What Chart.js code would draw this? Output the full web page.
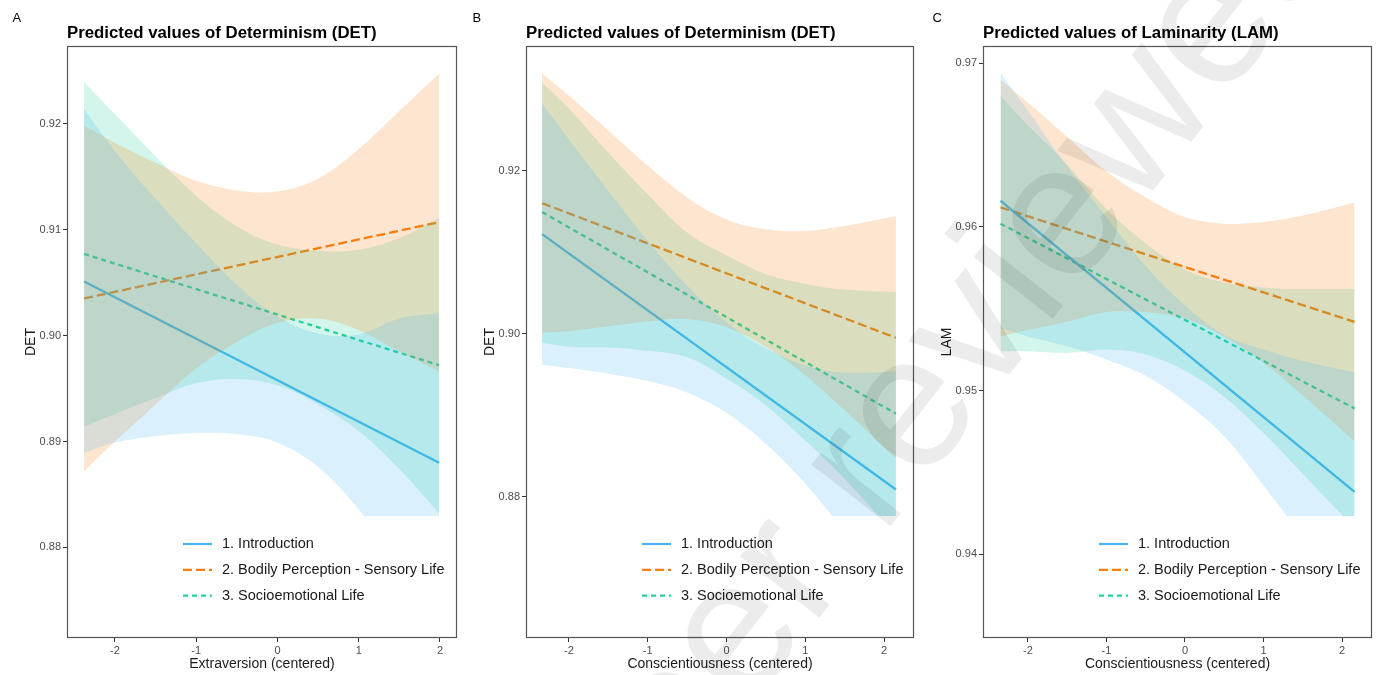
<!DOCTYPE html>
<html>
<head>
<meta charset="utf-8">
<script src="https://cdn.jsdelivr.net/npm/chart.js@4.4.1/dist/chart.umd.min.js"></script>
<style>
  html, body { margin: 0; padding: 0; background: #fff; }
  #wrap { position: relative; width: 1379px; height: 675px; overflow: hidden; }
  .panel { position: absolute; top: 0; }
  #mark { position: absolute; left: 0; top: 0; pointer-events: none; }
</style>
</head>
<body>
<div id="wrap">
  <canvas class="panel" id="chartA" width="460" height="675" style="left:0"></canvas>
  <canvas class="panel" id="chartB" width="460" height="675" style="left:460px"></canvas>
  <canvas class="panel" id="chartC" width="459" height="675" style="left:920px"></canvas>
  <canvas id="mark" width="1379" height="675"></canvas>
</div>
<script>
const fontFam = '"Liberation Sans", Arial, sans-serif';

const seriesNames = ['1. Introduction', '2. Bodily Perception - Sensory Life', '3. Socioemotional Life'];
const seriesColors = ['#46b4f2', '#fb7e0d', '#1ed49c'];
const seriesDash = [[], [9, 4], [5, 4]];
const xTicks = [-2, -1, 0, 1, 2];

// Panel A - Extraversion -> DET
const xA = [-2.38, -2, -1.5, -1, -0.5, 0, 0.5, 1, 1.5, 1.99];
const lineXA = [-2.38, 1.99];
const introA = [0.9051, 0.8880];
const bodilyA = [0.9035, 0.9107];
const socioA = [0.9077, 0.8972];
const introHiA = [0.9214, 0.9174, 0.9129, 0.9087, 0.9048, 0.9018, 0.9002, 0.9001, 0.9016, 0.9021];
const introLoA = [0.8889, 0.8899, 0.8905, 0.8908, 0.8907, 0.8899, 0.8876, 0.8836, 0.8782, 0.8739];
const bodilyHiA = [0.9198, 0.9182, 0.9163, 0.9146, 0.9137, 0.9136, 0.9148, 0.9176, 0.9212, 0.9247];
const bodilyLoA = [0.8872, 0.8900, 0.8935, 0.8969, 0.8994, 0.9012, 0.9016, 0.9005, 0.8985, 0.8966];
const socioHiA = [0.9239, 0.9209, 0.9169, 0.9132, 0.9103, 0.9086, 0.9080, 0.9081, 0.9092, 0.9111];
const socioLoA = [0.8914, 0.8926, 0.8941, 0.8955, 0.8959, 0.8953, 0.8935, 0.8910, 0.8874, 0.8832];
const yTicksA = [0.88, 0.89, 0.90, 0.91, 0.92];

// Panel B - Conscientiousness -> DET
const xB = [-2.34, -2, -1.5, -1, -0.5, 0, 0.5, 1, 1.5, 2.15];
const lineXB = [-2.34, 2.15];
const introB = [0.9122, 0.8809];
const bodilyB = [0.9160, 0.8995];
const socioB = [0.9149, 0.8902];
const introHiB = [0.9282, 0.9238, 0.9175, 0.9114, 0.9059, 0.9014, 0.8982, 0.8961, 0.8952, 0.8954];
const introLoB = [0.8962, 0.8958, 0.8951, 0.8942, 0.8928, 0.8903, 0.8865, 0.8816, 0.8756, 0.8663];
const bodilyHiB = [0.9319, 0.9292, 0.9249, 0.9206, 0.9167, 0.9140, 0.9128, 0.9126, 0.9132, 0.9144];
const bodilyLoB = [0.9001, 0.9003, 0.9009, 0.9015, 0.9018, 0.9008, 0.8984, 0.8949, 0.8906, 0.8847];
const socioHiB = [0.9308, 0.9276, 0.9222, 0.9171, 0.9124, 0.9096, 0.9073, 0.9061, 0.9054, 0.9051];
const socioLoB = [0.8989, 0.8984, 0.8983, 0.8979, 0.8971, 0.8945, 0.8912, 0.8869, 0.8822, 0.8753];
const yTicksB = [0.88, 0.90, 0.92];

// Panel C - Conscientiousness -> LAM
const xC = [-2.35, -2, -1.5, -1, -0.5, 0, 0.5, 1, 1.5, 2.16];
const lineXC = [-2.35, 2.16];
const introC = [0.9616, 0.9438];
const bodilyC = [0.9612, 0.9542];
const socioC = [0.9602, 0.9489];
const introHiC = [0.9694, 0.9671, 0.9637, 0.9606, 0.9576, 0.9552, 0.9534, 0.9525, 0.9518, 0.9511];
const introLoC = [0.9538, 0.9533, 0.9527, 0.9519, 0.9509, 0.9493, 0.9472, 0.9442, 0.9410, 0.9364];
const bodilyHiC = [0.9690, 0.9676, 0.9655, 0.9634, 0.9618, 0.9606, 0.9602, 0.9603, 0.9607, 0.9615];
const bodilyLoC = [0.9533, 0.9537, 0.9542, 0.9548, 0.9548, 0.9544, 0.9533, 0.9517, 0.9497, 0.9469];
const socioHiC = [0.9680, 0.9662, 0.9638, 0.9611, 0.9590, 0.9574, 0.9566, 0.9563, 0.9562, 0.9562];
const socioLoC = [0.9524, 0.9524, 0.9523, 0.9525, 0.9522, 0.9512, 0.9496, 0.9474, 0.9449, 0.9416];
const yTicksC = [0.94, 0.95, 0.96, 0.97];

function pts(xs, ys) {
  return ys.map((y, i) => ({ x: xs[i], y: y }));
}

function withAlpha(hex, a) {
  const n = parseInt(hex.slice(1), 16);
  return `rgba(${(n >> 16) & 255}, ${(n >> 8) & 255}, ${n & 255}, ${a})`;
}

// titles, axis titles, legend box and panel frame
const decor = {
  id: 'decor',
  afterDatasetsDraw(chart, args, o) {
    const { ctx, chartArea: a } = chart;
    ctx.save();
    ctx.fillStyle = '#fff';
    ctx.fillRect(a.left + 105, 516, a.right - a.left - 108, 100);
    seriesNames.forEach((name, i) => {
      const y = 544 + i * 25.8;
      ctx.strokeStyle = seriesColors[i];
      ctx.lineWidth = 2.2;
      ctx.setLineDash(seriesDash[i]);
      ctx.beginPath();
      ctx.moveTo(a.left + 116, y);
      ctx.lineTo(a.left + 145, y);
      ctx.stroke();
      ctx.setLineDash([]);
      ctx.fillStyle = '#1a1a1a';
      ctx.font = '14.5px ' + fontFam;
      ctx.textBaseline = 'middle';
      ctx.textAlign = 'left';
      ctx.fillText(name, a.left + 155, y);
    });
    ctx.restore();
  },
  afterDraw(chart, args, o) {
    const { ctx, chartArea: a } = chart;
    ctx.save();
    ctx.strokeStyle = '#555';
    ctx.lineWidth = 1.2;
    ctx.strokeRect(a.left + 0.5, a.top + 0.5, a.right - a.left - 1, a.bottom - a.top - 1);

    ctx.fillStyle = '#000';
    ctx.textBaseline = 'alphabetic';
    ctx.textAlign = 'left';
    ctx.font = '13px ' + fontFam;
    ctx.fillText(o.letter, 12.5, 22);
    ctx.font = 'bold 16.8px ' + fontFam;
    ctx.fillText(o.title, a.left, 37.5);

    ctx.fillStyle = '#1a1a1a';
    ctx.font = '14px ' + fontFam;
    ctx.textAlign = 'center';
    ctx.textBaseline = 'middle';
    ctx.fillText(o.xTitle, (a.left + a.right) / 2, 664);
    ctx.translate(a.left - 36, (a.top + a.bottom) / 2);
    ctx.rotate(-Math.PI / 2);
    ctx.fillText(o.yTitle, 0, 0);
    ctx.restore();
  }
};

function makeChart(id, cfg) {
  const datasets = [];
  // ribbons come first so they are painted over the lines
  cfg.bands.forEach((band, i) => {
    datasets.push({
      data: pts(cfg.x, band[0]),
      borderColor: 'rgba(0,0,0,0)', borderWidth: 0, pointRadius: 0,
      fill: false, tension: 0.35
    });
    datasets.push({
      data: pts(cfg.x, band[1]),
      borderColor: 'rgba(0,0,0,0)', borderWidth: 0, pointRadius: 0,
      fill: '-1', backgroundColor: withAlpha(seriesColors[i], 0.2), tension: 0.35
    });
  });
  cfg.lines.forEach((ys, i) => {
    datasets.push({
      data: pts(cfg.lineX, ys),
      borderColor: seriesColors[i], borderWidth: 2.3, borderDash: seriesDash[i],
      pointRadius: 0, fill: false, tension: 0
    });
  });

  const grid = { display: true, drawOnChartArea: false, drawTicks: true, tickLength: 4, color: '#333', lineWidth: 1 };
  const tickFont = { size: 11, family: fontFam };

  return new Chart(document.getElementById(id), {
    type: 'line',
    data: { datasets },
    options: {
      responsive: false,
      animation: false,
      events: [],
      layout: { padding: { top: 46, right: cfg.padRight, left: 0, bottom: 0 } },
      plugins: {
        legend: { display: false },
        tooltip: { enabled: false },
        decor: { letter: cfg.letter, title: cfg.title, xTitle: cfg.xTitle, yTitle: cfg.yTitle }
      },
      scales: {
        x: {
          type: 'linear', min: cfg.xMin, max: cfg.xMax,
          afterBuildTicks: s => { s.ticks = xTicks.map(v => ({ value: v })); },
          afterFit: s => { s.height = 37; },
          grid, border: { display: false },
          ticks: { color: '#4d4d4d', font: tickFont, padding: 2, maxRotation: 0, callback: v => String(v) }
        },
        y: {
          type: 'linear', min: cfg.yMin, max: cfg.yMax,
          afterBuildTicks: s => { s.ticks = cfg.yTicks.map(v => ({ value: v })); },
          afterFit: s => { s.width = cfg.axisLeft; },
          grid, border: { display: false },
          ticks: { color: '#4d4d4d', font: tickFont, padding: 2, callback: v => v.toFixed(2) }
        }
      }
    },
    plugins: [decor]
  });
}

makeChart('chartA', {
  letter: 'A', title: 'Predicted values of Determinism (DET)',
  xTitle: 'Extraversion (centered)', yTitle: 'DET',
  x: xA, lineX: lineXA,
  bands: [[introLoA, introHiA], [bodilyLoA, bodilyHiA], [socioLoA, socioHiA]],
  lines: [introA, bodilyA, socioA],
  xMin: -2.59, xMax: 2.21, yMin: 0.87145, yMax: 0.92733, yTicks: yTicksA,
  axisLeft: 67, padRight: 3
});

makeChart('chartB', {
  letter: 'B', title: 'Predicted values of Determinism (DET)',
  xTitle: 'Conscientiousness (centered)', yTitle: 'DET',
  x: xB, lineX: lineXB,
  bands: [[introLoB, introHiB], [bodilyLoB, bodilyHiB], [socioLoB, socioHiB]],
  lines: [introB, bodilyB, socioB],
  xMin: -2.544, xMax: 2.38, yMin: 0.8627, yMax: 0.93526, yTicks: yTicksB,
  axisLeft: 66, padRight: 6
});

makeChart('chartC', {
  letter: 'C', title: 'Predicted values of Laminarity (LAM)',
  xTitle: 'Conscientiousness (centered)', yTitle: 'LAM',
  x: xC, lineX: lineXC,
  bands: [[introLoC, introHiC], [bodilyLoC, bodilyHiC], [socioLoC, socioHiC]],
  lines: [introC, bodilyC, socioC],
  xMin: -2.573, xMax: 2.382, yMin: 0.93487, yMax: 0.97106, yTicks: yTicksC,
  axisLeft: 63, padRight: 7
});

// faint diagonal watermark over the whole figure
const mk = document.getElementById('mark').getContext('2d');
mk.save();
mk.translate(616, 878);
mk.rotate(-52 * Math.PI / 180);
mk.font = '190px ' + fontFam;
mk.fillStyle = 'rgba(0, 0, 0, 0.075)';
mk.fillText('peer reviewed', 0, 0);
mk.restore();
</script>
</body>
</html>
